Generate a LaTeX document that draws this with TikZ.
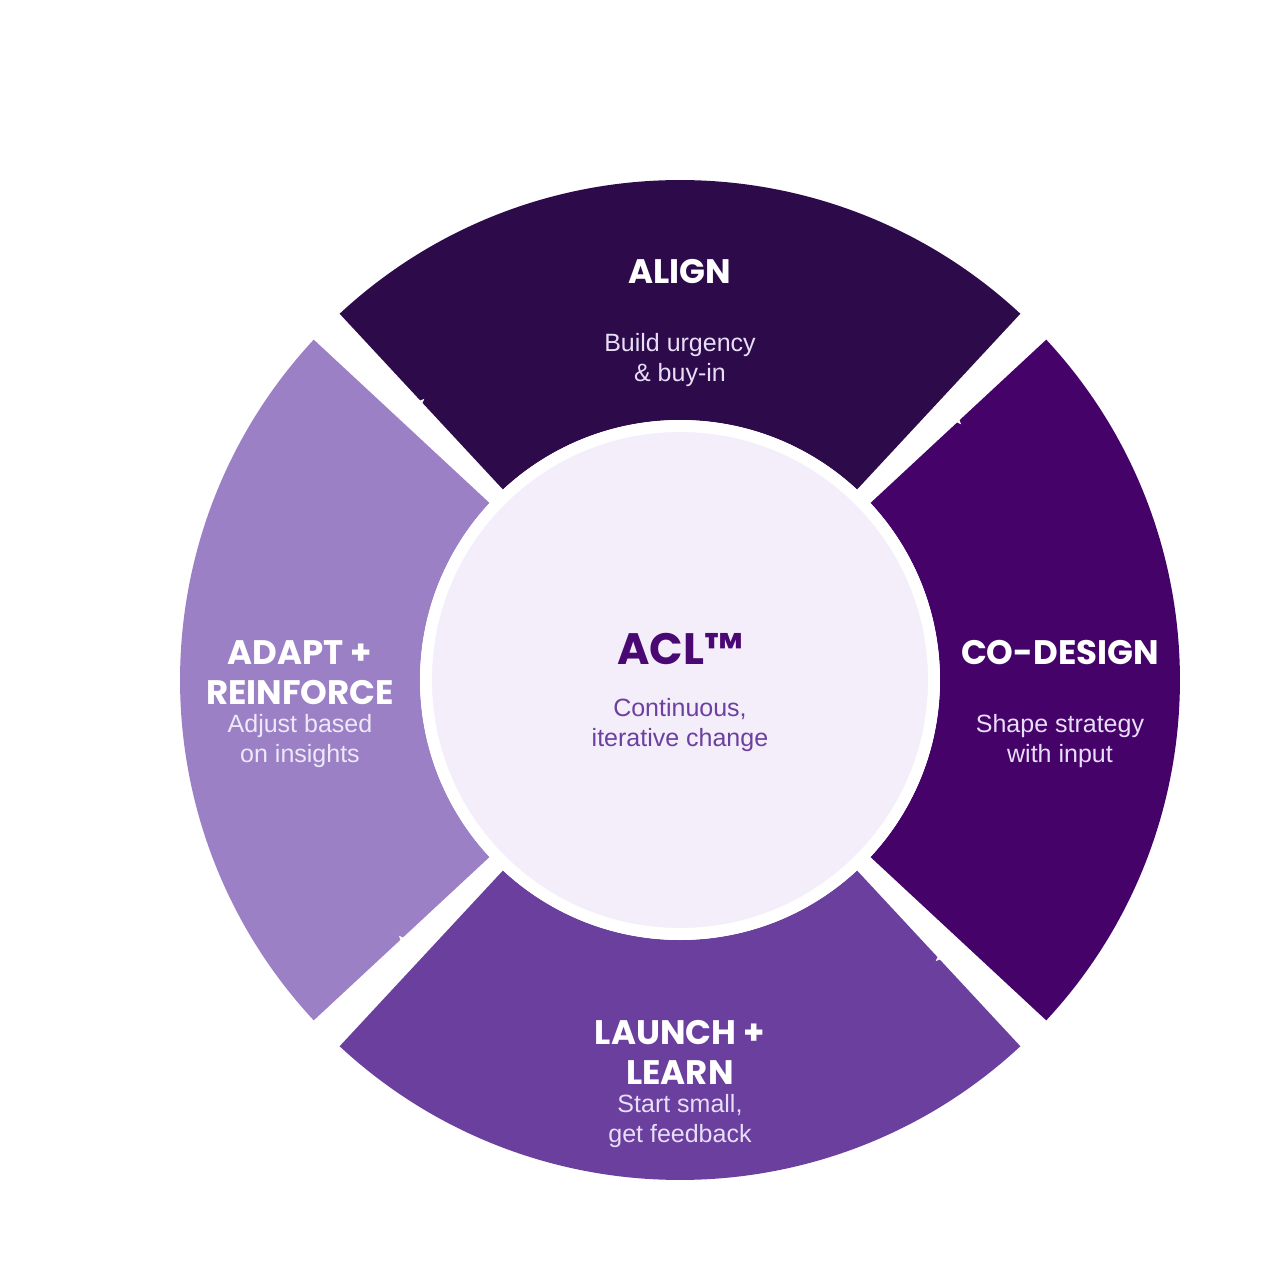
\documentclass[tikz,border=0pt]{standalone}
\usepackage{fontspec}
\setmainfont{Liberation Sans}
\newfontfamily\pop{Poppins}
\usetikzlibrary{arrows.meta}
\definecolor{cAlign}{HTML}{2D0B4A}
\definecolor{cCodesign}{HTML}{45036A}
\definecolor{cLaunch}{HTML}{6A3F9E}
\definecolor{cAdapt}{HTML}{9B80C5}
\definecolor{cCenter}{HTML}{F4EEFB}
\definecolor{cAcl}{HTML}{4A0872}
\definecolor{cAclSub}{HTML}{6B40A0}
\definecolor{cSub}{HTML}{E8DEF8}
\definecolor{cSubLight}{HTML}{EEE8F8}
\tikzset{
  title/.style={anchor=base, text=white, font=\pop\bfseries\fontsize{34}{40}\selectfont, inner sep=0pt},
  sub/.style={anchor=base, text=cSub, font=\fontsize{25}{30}\selectfont, inner sep=0pt},
  flow/.style={white, line width=1pt, -{Stealth[length=5pt,width=4pt]}}
}
\newcommand{\segment}[3]{%
  \fill[#1] (#2:500) arc[start angle=#2, end angle=#3, radius=500]
    -- (#3:260) arc[start angle=#3, end angle=#2, radius=260] -- cycle;}
\begin{document}
\begin{tikzpicture}[x=1pt,y=1pt]
\useasboundingbox (-680,-600) rectangle (600,680);
\fill[white] (-680,-600) rectangle (600,680);
% segments
\segment{cAlign}{47.1}{132.9}
\segment{cCodesign}{-42.9}{42.9}
\segment{cLaunch}{227.1}{312.9}
\segment{cAdapt}{137.1}{222.9}
% centre
\fill[white] (0,0) circle[radius=260];
\node[circle, fill=cCenter, minimum size=496pt, inner sep=0pt] (hub) at (0,0) {};
% cycle connectors
\coordinate (a1) at (136.9:380);
\coordinate (a2) at (46.9:380);
\coordinate (a3) at (-43.1:380);
\coordinate (a4) at (226.9:380);
\draw[flow] (a1) arc[start angle=136.9, end angle=132.3, radius=380];
\draw[flow] (a2) arc[start angle=46.9, end angle=42.3, radius=380];
\draw[flow] (a3) arc[start angle=-43.1, end angle=-47.7, radius=380];
\draw[flow] (a4) arc[start angle=226.9, end angle=222.3, radius=380];
% ALIGN
\node[title] (alignT) at (0,396.5) {ALIGN};
\node[sub] (alignS1) at (0,328) {Build urgency};
\node[sub] (alignS2) at (0,298) {\& buy-in};
% CO-DESIGN
\node[title] (codT) at (380,16) {CO-DESIGN};
\node[sub] (codS1) at (380,-52) {Shape strategy};
\node[sub] (codS2) at (380,-82) {with input};
% ADAPT
\node[title] (adaT1) at (-380,16) {ADAPT +};
\node[title] (adaT2) at (-380,-24) {REINFORCE};
\node[sub, text=cSubLight] (adaS1) at (-380,-52) {Adjust based};
\node[sub, text=cSubLight] (adaS2) at (-380,-82) {on insights};
% LAUNCH
\node[title] (lauT1) at (0,-364) {LAUNCH +};
\node[title] (lauT2) at (0,-404) {LEARN};
\node[sub] (lauS1) at (0,-432) {Start small,};
\node[sub] (lauS2) at (0,-462) {get feedback};
% ACL
\node[anchor=base, inner sep=0pt, text=cAcl, font=\pop\bfseries\fontsize{44}{50}\selectfont] (acl) at (0,16) {ACL™};
\node[sub, text=cAclSub] (aclS1) at (0,-36) {Continuous,};
\node[sub, text=cAclSub] (aclS2) at (0,-66) {iterative change};
\end{tikzpicture}
\end{document}
